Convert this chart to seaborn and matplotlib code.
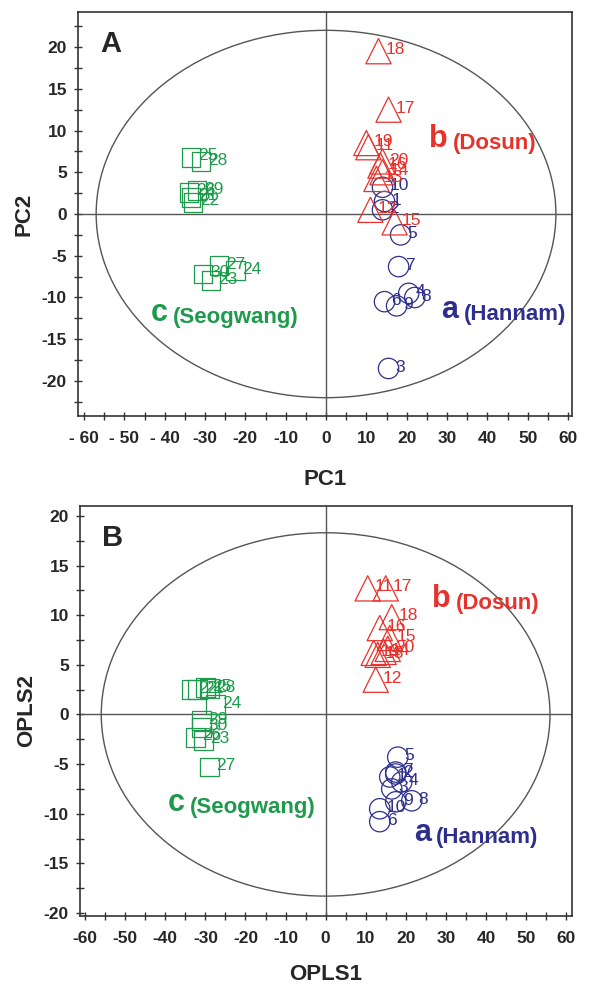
import matplotlib
matplotlib.use("Agg")
import matplotlib.pyplot as plt
from matplotlib.patches import Ellipse
from matplotlib.ticker import MultipleLocator, FixedLocator, FixedFormatter
import seaborn as sns
import pandas as pd

# ---- Panel A: PCA scores ----
pca_hannam_id = [1, 2, 3, 4, 5, 6, 7, 8, 9, 10]
pca_hannam_x = [14.5, 14.0, 15.5, 20.5, 18.5, 14.5, 18.0, 22.0, 17.5, 14.0]
pca_hannam_y = [1.5, 0.5, -18.5, -9.5, -2.5, -10.5, -6.3, -10.0, -11.0, 3.2]

pca_dosun_id = [11, 12, 13, 14, 15, 16, 17, 18, 19, 20]
pca_dosun_x = [10.5, 11.0, 12.5, 14.0, 17.0, 13.5, 15.5, 13.0, 10.0, 14.0]
pca_dosun_y = [8.0, 0.5, 4.2, 5.0, -1.0, 5.8, 12.5, 19.5, 8.5, 6.3]

pca_seog_id = [21, 22, 23, 24, 25, 26, 27, 28, 29, 30]
pca_seog_x = [-33.5, -33.0, -28.5, -22.5, -33.5, -34.0, -26.5, -31.0, -32.0, -30.5]
pca_seog_y = [2.0, 1.4, -8.0, -6.8, 6.8, 2.6, -6.2, 6.3, 2.8, -7.2]

# ---- Panel B: OPLS scores ----
opls_hannam_id = [1, 2, 3, 4, 5, 6, 7, 8, 9, 10]
opls_hannam_x = [16.0, 17.5, 16.5, 19.0, 18.0, 13.5, 17.5, 21.5, 17.5, 13.5]
opls_hannam_y = [-6.3, -6.0, -7.5, -6.8, -4.3, -10.8, -5.8, -8.7, -8.8, -9.5]

opls_dosun_id = [11, 12, 13, 14, 15, 16, 17, 18, 19, 20]
opls_dosun_x = [10.5, 12.5, 13.0, 14.5, 16.0, 13.5, 15.0, 16.5, 12.0, 15.5]
opls_dosun_y = [12.7, 3.5, 6.0, 6.3, 7.7, 8.7, 12.7, 9.8, 6.2, 6.6]

opls_seog_id = [21, 22, 23, 24, 25, 26, 27, 28, 29, 30]
opls_seog_x = [-32.0, -33.5, -30.5, -27.5, -30.0, -32.5, -29.0, -29.0, -31.0, -31.0]
opls_seog_y = [2.5, 2.5, -2.6, 1.0, 2.7, -2.3, -5.3, 2.6, -0.6, -1.3]

# Hotelling ellipse half-axes
pca_ellipse = (57, 22)
opls_ellipse = (56, 18.3)

pca_xticklabels = ['- 60', '- 50', '- 40', '-30', '-20', '-10', '0',
                   '10', '20', '30', '40', '50', '60']
opls_xticklabels = ['-60', '-50', '-40', '-30', '-20', '-10', '0',
                    '10', '20', '30', '40', '50', '60']
xtick_values = list(range(-60, 61, 10))

red = '#e8312b'
blue = '#2e2f8c'
green = '#1e9a4c'

sns.set_theme(style="white")
plt.rcParams['font.family'] = ['Liberation Sans', 'DejaVu Sans']
plt.rcParams['axes.unicode_minus'] = False

fig = plt.figure(figsize=(5.95, 9.88), dpi=100)
ax_a = fig.add_axes([0.1311, 0.5789, 0.8303, 0.4090])
ax_b = fig.add_axes([0.1345, 0.0729, 0.8269, 0.4150])


def draw_groups(ax, groups):
    for ids, xs, ys, marker, size, color in groups:
        df = pd.DataFrame({'x': xs, 'y': ys, 'id': ids})
        sns.scatterplot(data=df, x='x', y='y', marker=marker, s=size,
                        facecolor='none', edgecolor=color, linewidth=0.9,
                        ax=ax, zorder=3)
        for _, r in df.iterrows():
            ax.annotate(str(int(r['id'])), (r['x'], r['y']), xytext=(5, 1),
                        textcoords='offset points', ha='left', va='center',
                        fontsize=12.5, color=color, zorder=4)


def group_label(ax, x, y, letter, name, color):
    t = ax.text(x, y, letter, fontsize=22, fontweight='bold', color=color,
                ha='left', va='baseline')
    ax.annotate(name, xy=(1, 0), xycoords=t, xytext=(4, 0),
                textcoords='offset points', fontsize=16, fontweight='bold',
                color=color, ha='left', va='bottom')


def style_axes(ax, xlim, ylim, ell, xlabels, xlabel, ylabel, panel, xpad):
    ax.set_xlim(*xlim)
    ax.set_ylim(*ylim)
    ax.axhline(0, color='#555555', lw=1.0, zorder=1)
    ax.axvline(0, color='#555555', lw=1.0, zorder=1)
    ax.add_patch(Ellipse((0, 0), 2 * ell[0], 2 * ell[1], fill=False,
                         edgecolor='#555555', lw=1.0, zorder=1))
    ax.xaxis.set_major_locator(FixedLocator(xtick_values))
    ax.xaxis.set_major_formatter(FixedFormatter(xlabels))
    ax.xaxis.set_minor_locator(MultipleLocator(5))
    ax.yaxis.set_major_locator(MultipleLocator(5))
    ax.yaxis.set_minor_locator(MultipleLocator(2.5))
    ax.tick_params(which='both', direction='inout', length=6, width=1.0,
                   color='#333333', bottom=True, left=True)
    ax.tick_params(axis='x', which='major', labelsize=12.5, pad=8)
    ax.tick_params(axis='y', which='major', labelsize=12.5, pad=5)
    for lab in ax.get_xticklabels() + ax.get_yticklabels():
        lab.set_fontweight('bold')
    for sp in ax.spines.values():
        sp.set_color('#333333')
        sp.set_linewidth(1.2)
    ax.set_xlabel(xlabel, fontsize=16, fontweight='bold', labelpad=xpad)
    ax.set_ylabel(ylabel, fontsize=16, fontweight='bold', labelpad=5)
    ax.text(0.045, 0.955, panel, transform=ax.transAxes, fontsize=21,
            fontweight='bold', ha='left', va='top')


style_axes(ax_a, (-61.5, 61), (-24.2, 24.2), pca_ellipse, pca_xticklabels,
           'PC1', 'PC2', 'A', 16)
draw_groups(ax_a, [
    (pca_seog_id, pca_seog_x, pca_seog_y, 's', 180, green),
    (pca_hannam_id, pca_hannam_x, pca_hannam_y, 'o', 215, blue),
    (pca_dosun_id, pca_dosun_x, pca_dosun_y, '^', 330, red),
])
group_label(ax_a, 25.5, 8.0, 'b', '(Dosun)', red)
group_label(ax_a, 28.5, -12.5, 'a', '(Hannam)', blue)
group_label(ax_a, -43.5, -12.8, 'c', '(Seogwang)', green)

style_axes(ax_b, (-61.3, 61.5), (-20.3, 21), opls_ellipse, opls_xticklabels,
           'OPLS1', 'OPLS2', 'B', 13)
draw_groups(ax_b, [
    (opls_seog_id, opls_seog_x, opls_seog_y, 's', 180, green),
    (opls_hannam_id, opls_hannam_x, opls_hannam_y, 'o', 215, blue),
    (opls_dosun_id, opls_dosun_x, opls_dosun_y, '^', 330, red),
])
group_label(ax_b, 26.5, 10.8, 'b', '(Dosun)', red)
group_label(ax_b, 22.0, -12.7, 'a', '(Hannam)', blue)
group_label(ax_b, -39.5, -9.7, 'c', '(Seogwang)', green)

fig.savefig('out.png', dpi=100)
